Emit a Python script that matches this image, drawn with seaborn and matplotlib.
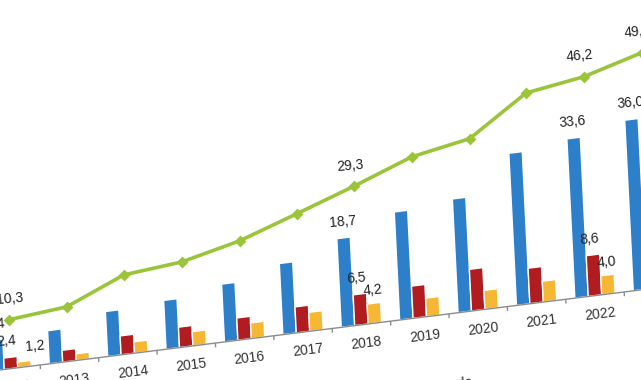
import numpy as np
import pandas as pd
import matplotlib
matplotlib.use("Agg")
import matplotlib.pyplot as plt
import matplotlib.transforms as mtransforms
import seaborn as sns

# values (photo of a chart, slanted)
years = [str(y) for y in range(2012, 2024)]
blue = [6.4, 7.0, 9.5, 10.3, 12.2, 15.0, 18.7, 22.8, 24.0, 32.1, 33.6, 36.0]
red = [2.4, 2.5, 4.0, 4.3, 4.7, 5.5, 6.5, 6.8, 8.8, 7.5, 8.6, 9.5]
yellow = [1.2, 1.4, 2.4, 3.0, 3.3, 4.0, 4.2, 3.9, 4.0, 4.4, 4.0, 4.2]
total = [10.3, 11.5, 16.7, 17.9, 20.8, 25.0, 29.3, 33.9, 36.2, 44.3, 46.2, 49.7]
label_years = ["2012", "2018", "2022", "2023"]
small_label_years = ["2012", "2018", "2022"]

sns.set_theme(style="white")
plt.rcParams["font.family"] = ["Liberation Sans Narrow", "Liberation Sans", "DejaVu Sans"]

df = pd.DataFrame({
    "year": years * 3,
    "value": blue + red + yellow,
    "series": ["A"] * 12 + ["B"] * 12 + ["C"] * 12,
})
palette = {"A": "#2d7fc9", "B": "#b01c20", "C": "#f6b834"}
green = "#9bc43a"


def fmt(v):
    return f"{v:.1f}".replace(".", ",")


fig = plt.figure(figsize=(6.41, 3.80), dpi=100)
ax = fig.add_axes([0, 0, 1, 1])

sns.barplot(data=df, x="year", y="value", hue="series", palette=palette,
            width=0.69, gap=0, saturation=1, legend=False, ax=ax)
sns.pointplot(x=years, y=total, color=green, errorbar=None,
              marker="D", markersize=4, linewidth=2.6, ax=ax)

ax.set_xlim(-0.1884, 10.788)
ax.set_ylim(-2.110, 78.06)
ax.axis("off")

# x axis line and small ticks between groups
ax.axhline(0, color="#8c8c8c", lw=1)
ax.vlines([i - 0.5 for i in range(len(years) + 1)], -0.9, 0, color="#8c8c8c", lw=1)

for i, y in enumerate(years):
    ax.text(i + 0.07, -4.0, y, ha="center", va="center", rotation=7,
            fontsize=10, color="#333333")

txt = dict(ha="center", va="center", rotation=5, fontsize=10, color="#222222")
for y in label_years:
    i = years.index(y)
    dx = 0.04 if i == 0 else -0.05
    ax.text(i + dx, total[i] + 4.4, fmt(total[i]), **txt)
    ax.text(i - 0.23, blue[i] + 3.4, fmt(blue[i]), **txt)
for y in small_label_years:
    i = years.index(y)
    ax.text(i - 0.05, red[i] + 3.4, fmt(red[i]), **txt)
    dx = 0.42 if i == 0 else 0.23
    ax.text(i + dx, yellow[i] + 2.8, fmt(yellow[i]), **txt)

ax.text(7.65, -15.0, "nda", ha="center", va="center", rotation=7,
        fontsize=10, color="#333333")

# the photographed chart is sheared: baseline rises to the right, verticals lean left
shear = mtransforms.Affine2D(np.array([[1, -0.05, 0.5],
                                       [0.125, 1, 0],
                                       [0, 0, 1]]))
for p in ax.patches:
    p.set_transform(p.get_data_transform() + shear)
    p.set_clip_on(False)
for artist in list(ax.lines) + list(ax.texts) + list(ax.collections):
    artist.set_transform(artist.get_transform() + shear)
    artist.set_clip_on(False)

fig.savefig("out.png", dpi=100)
